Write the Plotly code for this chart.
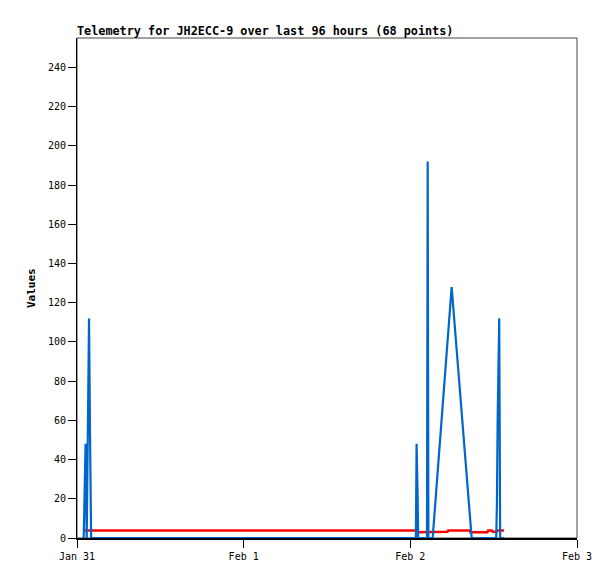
import plotly.graph_objects as go

# ---- data ----
blue_times = [
    "2024-01-31 00:58", "2024-01-31 01:06", "2024-01-31 01:14", "2024-01-31 01:24",
    "2024-01-31 01:44", "2024-01-31 01:52", "2024-01-31 02:02",
    "2024-02-02 00:48", "2024-02-02 00:54", "2024-02-02 01:02", "2024-02-02 01:08",
    "2024-02-02 02:24", "2024-02-02 02:30", "2024-02-02 02:36",
    "2024-02-02 03:13", "2024-02-02 05:57", "2024-02-02 08:50",
    "2024-02-02 12:22", "2024-02-02 12:28", "2024-02-02 12:34", "2024-02-02 12:40",
    "2024-02-02 12:48", "2024-02-02 12:56", "2024-02-02 13:30",
]
blue_values = [
    0, 24, 48, 0,
    112, 56, 0,
    0, 48, 24, 0,
    0, 192, 0,
    0, 128, 0,
    0, 17, 58, 93,
    112, 0, 0,
]

red_times = [
    "2024-01-31 00:54", "2024-02-02 00:51", "2024-02-02 00:57", "2024-02-02 02:48",
    "2024-02-02 02:54", "2024-02-02 05:21", "2024-02-02 05:27", "2024-02-02 08:33",
    "2024-02-02 08:39", "2024-02-02 11:06", "2024-02-02 11:12", "2024-02-02 11:45",
    "2024-02-02 11:51", "2024-02-02 12:24", "2024-02-02 12:30", "2024-02-02 13:30",
]
red_values = [3.8, 3.8, 2.9, 2.9, 3.2, 3.2, 3.8, 3.8, 2.9, 2.9, 3.8, 3.8, 3.2, 3.2, 3.8, 3.8]

x_tick_vals = ["2024-01-31", "2024-02-01", "2024-02-02", "2024-02-03"]
x_tick_text = ["Jan 31", "Feb 1", "Feb 2", "Feb 3"]
y_tick_vals = [0, 20, 40, 60, 80, 100, 120, 140, 160, 180, 200, 220, 240]

title_text = "Telemetry for JH2ECC-9 over last 96 hours (68 points)"
y_label = "Values"

MONO = "DejaVu Sans Mono"

fig = go.Figure()
fig.add_trace(go.Scatter(x=red_times, y=red_values, mode="lines",
                         line=dict(color="#FF0000", width=2.5), showlegend=False))
fig.add_trace(go.Scatter(x=blue_times, y=blue_values, mode="lines",
                         line=dict(color="#0066CC", width=2.2), showlegend=False))

fig.update_layout(
    width=615, height=579,
    margin=dict(l=77, r=38, t=38, b=41),
    paper_bgcolor="white", plot_bgcolor="white",
    showlegend=False,
    title=dict(text=title_text, x=77/615, xanchor="left", xref="container",
               y=1 - 31/579, yanchor="middle",
               font=dict(family=MONO, size=11.8, color="black", weight="bold")),
    font=dict(family=MONO, size=10, color="black"),
)
fig.update_xaxes(
    type="date", range=["2024-01-31 00:00", "2024-02-03 00:00"],
    tickvals=x_tick_vals, ticktext=x_tick_text,
    showgrid=False, zeroline=False,
    showline=True, linecolor="black", linewidth=2,
    ticks="outside", ticklen=8, tickcolor="black", tickwidth=1,
    tickfont=dict(family=MONO, size=10, color="black"),
    layer="above traces",
)
fig.update_yaxes(
    range=[0, 255], tickvals=y_tick_vals,
    showgrid=False, zeroline=False,
    showline=True, linecolor="black", linewidth=1,
    ticks="outside", ticklen=8, tickcolor="black", tickwidth=1,
    tickfont=dict(family=MONO, size=10, color="black"),
    layer="above traces",
)
fig.add_shape(type="rect", xref="paper", yref="paper", x0=0, x1=1, y0=0, y1=1,
              line=dict(color="#444444", width=1), layer="below")
fig.add_annotation(text=y_label, xref="paper", yref="paper", x=(31-77)/500, y=0.5,
                   textangle=-90, showarrow=False, xanchor="center", yanchor="middle",
                   font=dict(family=MONO, size=11, color="black", weight="bold"))

fig.write_html("out.html", config={"displayModeBar": False},
               post_script="document.body.style.margin='0';document.body.style.overflow='hidden';")
